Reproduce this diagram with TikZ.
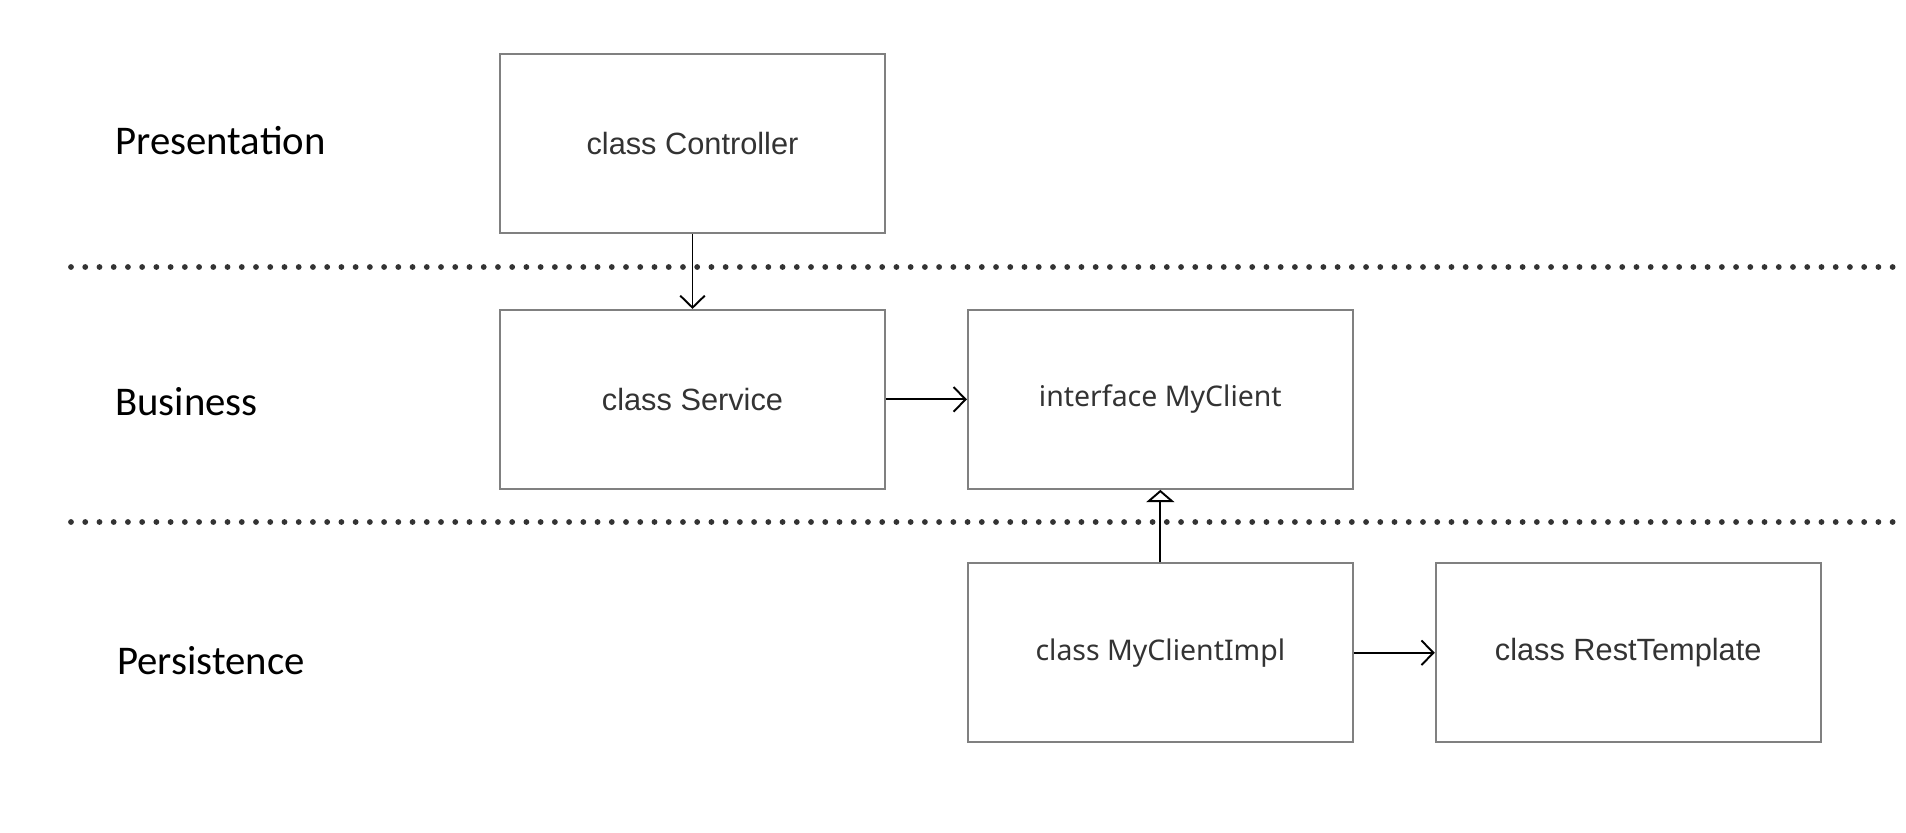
\documentclass[tikz,border=0pt]{standalone}
\usepackage{fontspec}
\setmainfont{Liberation Sans}
\newfontfamily\layerfont{Carlito}
\newfontfamily\notofont{Noto Sans}
\usepackage{tikz}
\usetikzlibrary{arrows.meta,positioning}
\usepackage{xcolor}
\definecolor{boxgray}{HTML}{808080}
\definecolor{textgray}{HTML}{333333}

\begin{document}
\begin{tikzpicture}[
    x=0.02cm, y=0.02cm,
    box/.style={rectangle, draw=boxgray, line width=1.1pt, minimum width=7.7cm, minimum height=3.58cm, align=center, text=textgray, font=\fontsize{17.5}{21}\selectfont},
    notobox/.style={box, font=\notofont\fontsize{16.2}{20}\selectfont},
    layer/.style={anchor=base west, inner sep=0pt, font=\layerfont\fontsize{23.2}{28}\selectfont},
    sep/.style={draw=textgray, line width=3.3pt, line cap=round, dash pattern=on 0pt off 8.1pt},
    uses/.style={-{Straight Barb[length=6.8pt, width=14pt]}, line width=1.1pt},
    realizes/.style={-{Triangle[open, length=7pt, width=16pt, fill=white]}, line width=1.1pt},
]
    \useasboundingbox (0,0) rectangle (1906,-832);

    % layer separators
    \draw[sep] (71,-267) -- (1906,-267);
    \draw[sep] (71,-522) -- (1906,-522);

    \node[layer] (presentation) at (115,-154) {Presentation};
    \node[layer] (business) at (115,-415) {Business};
    \node[layer] (persistence) at (117,-674) {Persistence};

    \node[box] (controller) at (692.5,-143.5) {class Controller};
    \node[box, below=1.5cm of controller] (service) {class Service};
    \node[notobox, right=1.62cm of service] (client) {interface MyClient};
    \node[notobox, below=1.45cm of client] (impl) {class MyClientImpl};
    \node[box, right=1.62cm of impl] (rest) {class RestTemplate};

    \draw[uses] (controller) -- (service);
    \draw[uses] (service) -- (client);
    \draw[realizes] (impl) -- (client);
    \draw[uses] (impl) -- (rest);
\end{tikzpicture}
\end{document}
